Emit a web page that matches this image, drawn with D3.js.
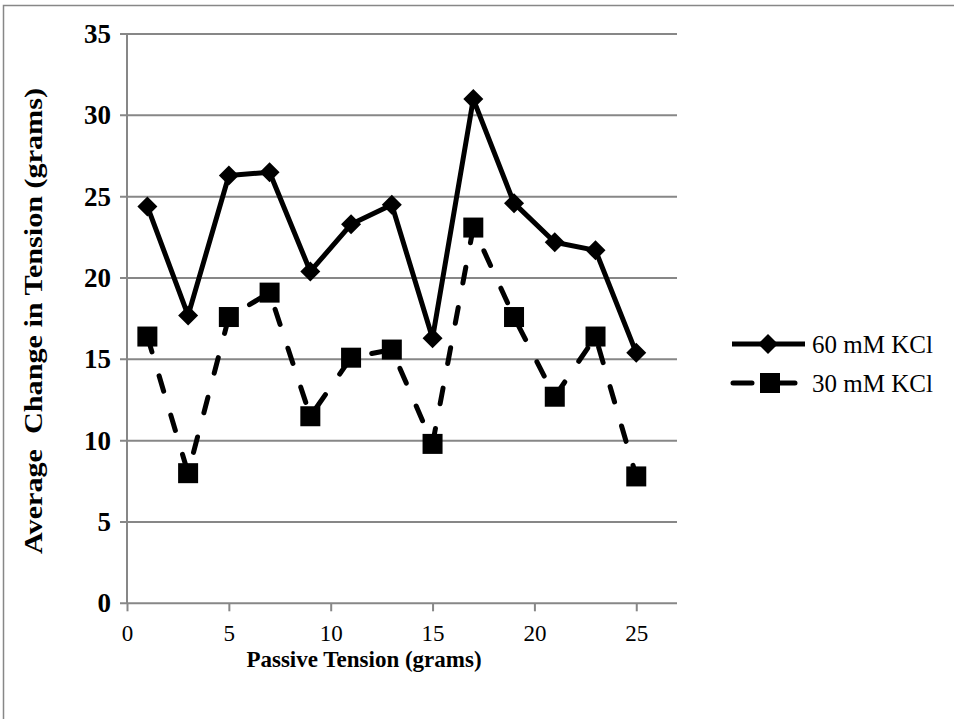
<!DOCTYPE html>
<html>
<head>
<meta charset="utf-8">
<script src="https://cdn.jsdelivr.net/npm/d3@7"></script>
<style>
  body { margin: 0; background: #fff; }
</style>
</head>
<body>
<div class="d3-chart"></div>
<script>
// passive tension (grams) and the two KCl series
const passive = [1, 3, 5, 7, 9, 11, 13, 15, 17, 19, 21, 23, 25];
const kcl60 = [24.4, 17.7, 26.3, 26.5, 20.4, 23.3, 24.5, 16.3, 31.0, 24.6, 22.2, 21.7, 15.4];
const kcl30 = [16.4, 8.0, 17.6, 19.1, 11.5, 15.1, 15.6, 9.8, 23.1, 17.6, 12.7, 16.4, 7.8];
const seriesNames = ["60 mM KCl", "30 mM KCl"];
const xTicks = [0, 5, 10, 15, 20, 25];
const yTicks = [0, 5, 10, 15, 20, 25, 30, 35];

const width = 954, height = 719;
const gray = "#878787";
const serif = "Liberation Serif";

const svg = d3.select(".d3-chart")
  .append("svg")
  .attr("width", width)
  .attr("height", height)
  .style("font-family", serif);

// outer chart border (runs off the right and bottom)
svg.append("rect")
  .attr("x", 3.5).attr("y", 5.5)
  .attr("width", 1200).attr("height", 1200)
  .attr("fill", "none")
  .attr("stroke", gray)
  .attr("stroke-width", 1.5);

const x = d3.scaleLinear().domain([0, 27]).range([127, 677]);
const y = d3.scaleLinear().domain([0, 35]).range([603.3, 34]);

// horizontal gridlines (they also act as the y tick marks)
svg.append("g")
  .selectAll("line")
  .data(yTicks)
  .join("line")
    .attr("x1", 120).attr("x2", x.range()[1])
    .attr("y1", d => y(d)).attr("y2", d => y(d))
    .attr("stroke", gray)
    .attr("stroke-width", 2);

// y axis line
svg.append("line")
  .attr("x1", x(0)).attr("x2", x(0))
  .attr("y1", y(0)).attr("y2", y(35))
  .attr("stroke", gray).attr("stroke-width", 2);

// x axis ticks + labels
const xAxis = svg.append("g")
  .attr("transform", `translate(0,${y(0)})`)
  .call(d3.axisBottom(x).tickValues(xTicks).tickSize(8).tickPadding(13).tickFormat(d3.format("d")));
xAxis.select(".domain").remove();
xAxis.attr("font-family", serif);
xAxis.selectAll(".tick line").attr("stroke", gray).attr("stroke-width", 2);
xAxis.selectAll(".tick text")
  .style("font-family", serif)
  .attr("font-size", 23);

// y labels
const yAxis = svg.append("g")
  .attr("transform", `translate(${x(0)},0)`)
  .call(d3.axisLeft(y).tickValues(yTicks).tickSize(0).tickPadding(16).tickFormat(d3.format("d")));
yAxis.select(".domain").remove();
yAxis.attr("font-family", serif);
yAxis.selectAll(".tick text")
  .style("font-family", serif)
  .attr("font-size", 27)
  .attr("font-weight", "bold");

// axis titles
svg.append("text")
  .attr("x", 364).attr("y", 667)
  .attr("text-anchor", "middle")
  .style("font-family", serif)
  .attr("font-size", 23)
  .attr("font-weight", "bold")
  .text("Passive Tension (grams)");

svg.append("text")
  .attr("transform", "translate(42,321) rotate(-90)")
  .attr("text-anchor", "middle")
  .style("font-family", serif)
  .attr("font-size", 26)
  .attr("font-weight", "bold")
  .attr("textLength", 466)
  .attr("lengthAdjust", "spacingAndGlyphs")
  .style("white-space", "pre")
  .text("Average  Change in Tension (grams)");

const line = d3.line().x(d => x(d[0])).y(d => y(d[1]));
const pts60 = passive.map((p, i) => [p, kcl60[i]]);
const pts30 = passive.map((p, i) => [p, kcl30[i]]);

const diamond = r => `M0,${-r}L${r},0L0,${r}L${-r},0Z`;

// 30 mM dashed
svg.append("path")
  .datum(pts30)
  .attr("d", line)
  .attr("fill", "none")
  .attr("stroke", "#000")
  .attr("stroke-width", 5)
  .attr("stroke-linecap", "round")
  .attr("stroke-dasharray", "16,25");

svg.append("g")
  .selectAll("rect")
  .data(pts30)
  .join("rect")
    .attr("x", d => x(d[0]) - 10)
    .attr("y", d => y(d[1]) - 10)
    .attr("width", 20).attr("height", 20)
    .attr("fill", "#000");

// 60 mM solid
svg.append("path")
  .datum(pts60)
  .attr("d", line)
  .attr("fill", "none")
  .attr("stroke", "#000")
  .attr("stroke-width", 5)
  .attr("stroke-linejoin", "round");

svg.append("g")
  .selectAll("path")
  .data(pts60)
  .join("path")
    .attr("transform", d => `translate(${x(d[0])},${y(d[1])})`)
    .attr("d", diamond(10))
    .attr("fill", "#000");

// legend
const legend = svg.append("g").attr("transform", "translate(732,0)");
legend.append("line")
  .attr("x1", 0).attr("x2", 73).attr("y1", 344).attr("y2", 344)
  .attr("stroke", "#000").attr("stroke-width", 5);
legend.append("path")
  .attr("transform", "translate(36,344)")
  .attr("d", diamond(10))
  .attr("fill", "#000");
legend.append("line")
  .attr("x1", 1).attr("x2", 73).attr("y1", 383).attr("y2", 383)
  .attr("stroke", "#000").attr("stroke-width", 5)
  .attr("stroke-linecap", "round")
  .attr("stroke-dasharray", "19,24");
legend.append("rect")
  .attr("x", 28).attr("y", 373).attr("width", 20).attr("height", 20)
  .attr("fill", "#000");

legend.selectAll("text.lbl")
  .data(seriesNames)
  .join("text")
    .attr("class", "lbl")
    .attr("x", 80)
    .attr("y", (d, i) => 344 + i * 39)
    .attr("dy", "0.35em")
    .style("font-family", serif)
    .attr("font-size", 25)
    .text(d => d);
</script>
</body>
</html>
